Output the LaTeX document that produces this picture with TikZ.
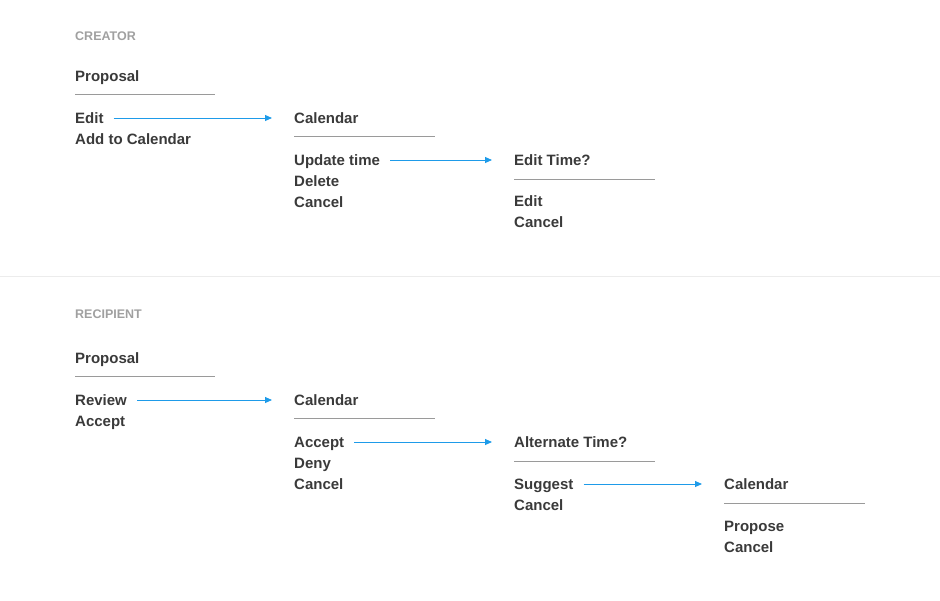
\documentclass[tikz,border=0pt]{standalone}
\usepackage{fontspec}
\setmainfont{Liberation Sans}
\usepackage{tikz}
\usetikzlibrary{arrows.meta}
\definecolor{ink}{HTML}{3A3A3A}
\definecolor{caption}{HTML}{A0A0A0}
\definecolor{rulegray}{HTML}{9A9A9A}
\definecolor{divider}{HTML}{ECECEC}
\definecolor{linkblue}{HTML}{1E9BE9}
\tikzset{
  item/.style={anchor=west, inner sep=0pt, text height=10.7pt, text depth=0pt,
    font=\fontsize{15}{18}\selectfont\bfseries, text=ink},
  section/.style={anchor=west, inner sep=0pt,
    font=\fontsize{12.5}{15}\selectfont\bfseries, text=caption},
  rule/.style={rulegray, line width=0.9pt},
  link/.style={-{Triangle[length=7pt,width=6pt]}, linkblue, line width=0.9pt,
    shorten <=10pt, shorten >=22pt}
}

\begin{document}
\begin{tikzpicture}[x=1pt, y=-1pt]
        \useasboundingbox (0,0) rectangle (940,600);
        % Creator
        \node[section] (creator) at (75,36) {CREATOR};
        \node[item] (cprop) at (75,76) {Proposal};
        \draw[rule] (75,94) -- (215,94);
        \node[item] (cedit) at (75,118) {Edit};
        \node[item] (cadd) at (75,139) {Add to Calendar};
        \node[item] (ccal) at (294,118) {Calendar};
        \draw[rule] (294,136) -- (435,136);
        \node[item] (cupdate) at (294,160) {Update time};
        \node[item] (cdelete) at (294,181) {Delete};
        \node[item] (ccancel) at (294,202) {Cancel};
        \node[item] (cedittime) at (514,160) {Edit Time?};
        \draw[rule] (514,179) -- (655,179);
        \node[item] (cedit2) at (514,201) {Edit};
        \node[item] (ccancel2) at (514,222) {Cancel};
        \draw[link] (cedit) -- (ccal);
        \draw[link] (cupdate) -- (cedittime);
        % Divider
        \draw[divider, line width=1pt] (0,276) -- (940,276);
        % Recipient
        \node[section] (recipient) at (75,314) {RECIPIENT};
        \node[item] (rprop) at (75,358) {Proposal};
        \draw[rule] (75,376) -- (215,376);
        \node[item] (rreview) at (75,400) {Review};
        \node[item] (raccept) at (75,421) {Accept};
        \node[item] (rcal) at (294,400) {Calendar};
        \draw[rule] (294,418) -- (435,418);
        \node[item] (raccept2) at (294,442) {Accept};
        \node[item] (rdeny) at (294,463) {Deny};
        \node[item] (rcancel) at (294,484) {Cancel};
        \node[item] (ralt) at (514,442) {Alternate Time?};
        \draw[rule] (514,461) -- (655,461);
        \node[item] (rsuggest) at (514,484) {Suggest};
        \node[item] (rcancel2) at (514,505) {Cancel};
        \node[item] (rcal2) at (724,484) {Calendar};
        \draw[rule] (724,503) -- (865,503);
        \node[item] (rpropose) at (724,526) {Propose};
        \node[item] (rcancel3) at (724,547) {Cancel};
        \draw[link] (rreview) -- (rcal);
        \draw[link] (raccept2) -- (ralt);
        \draw[link] (rsuggest) -- (rcal2);
\end{tikzpicture}
\end{document}
